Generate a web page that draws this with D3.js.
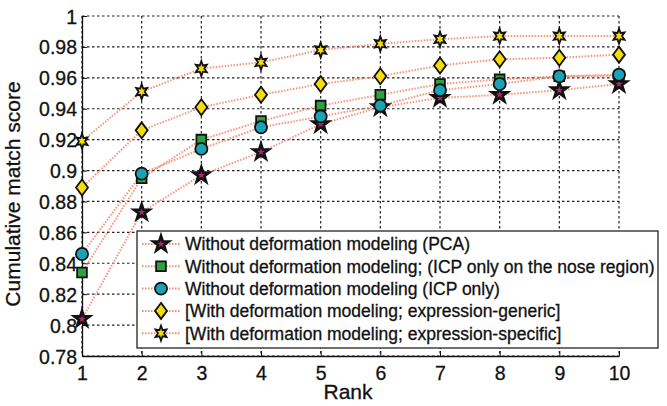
<!DOCTYPE html>
<html>
<head>
<meta charset="utf-8">
<script src="https://cdn.jsdelivr.net/npm/d3@7"></script>
<style>
  body { margin: 0; background: #fff; }
  text { font-family: "Liberation Sans", Arial, sans-serif; fill: #111; }
</style>
</head>
<body>
<div id="chart"></div>
<script>
// data
const ranks = [1, 2, 3, 4, 5, 6, 7, 8, 9, 10];
const pca      = [0.804, 0.873, 0.897, 0.912, 0.930, 0.941, 0.947, 0.949, 0.952, 0.956];
const icpNose  = [0.834, 0.895, 0.920, 0.932, 0.942, 0.949, 0.956, 0.959, 0.961, 0.961];
const icpOnly  = [0.846, 0.898, 0.914, 0.928, 0.935, 0.942, 0.952, 0.956, 0.961, 0.962];
const generic  = [0.889, 0.926, 0.941, 0.949, 0.956, 0.961, 0.968, 0.972, 0.973, 0.975];
const specific = [0.919, 0.951, 0.966, 0.970, 0.978, 0.982, 0.985, 0.987, 0.987, 0.987];
const yTicks = [0.78, 0.8, 0.82, 0.84, 0.86, 0.88, 0.9, 0.92, 0.94, 0.96, 0.98, 1];
const labels = [
    "Without deformation modeling (PCA)",
    "Without deformation modeling; (ICP only on the nose region)",
    "Without deformation modeling (ICP only)",
    "[With deformation modeling; expression-generic]",
    "[With deformation modeling; expression-specific]"
];

let series = [
    {values: pca, marker: "star", fill: "#b3246f", label: labels[0]},
    {values: icpNose, marker: "square", fill: "#2ea043", label: labels[1]},
    {values: icpOnly, marker: "circle", fill: "#1aa3b5", label: labels[2]},
    {values: generic, marker: "diamond", fill: "#f5dc0a", label: labels[3]},
    {values: specific, marker: "hexagram", fill: "#f5dc0a", label: labels[4]}
];

let margin = {top: 16, right: 48, bottom: 50, left: 82},
    width = 667 - margin.left - margin.right,
    height = 406 - margin.top - margin.bottom;

let x = d3.scaleLinear().domain([1, 10]).range([0, width]);
let y = d3.scaleLinear().domain([0.78, 1]).range([height, 0]);

let svg = d3.select("#chart").append("svg")
    .attr("width", 667)
    .attr("height", 406)
    .append("g")
    .attr("transform", "translate(" + margin.left + "," + margin.top + ")");

// dotted grid
svg.append("g").selectAll("line")
    .data(ranks)
    .enter().append("line")
    .attr("x1", (d) => x(d)).attr("x2", (d) => x(d))
    .attr("y1", 0).attr("y2", height)
    .attr("stroke", "#222").attr("stroke-width", 1.2)
    .attr("stroke-dasharray", "2.5,2.5");
svg.append("g").selectAll("line")
    .data(yTicks)
    .enter().append("line")
    .attr("x1", 0).attr("x2", width)
    .attr("y1", (d) => y(d)).attr("y2", (d) => y(d))
    .attr("stroke", "#222").attr("stroke-width", 1.2)
    .attr("stroke-dasharray", "2.5,2.5");

// axes, ticks pointing inward
let xAxis = svg.append("g")
    .attr("transform", "translate(0," + height + ")")
    .call(d3.axisBottom(x).tickValues(ranks).tickSizeInner(-5).tickSizeOuter(0).tickPadding(10).tickFormat(d3.format("d")));
let yAxis = svg.append("g")
    .call(d3.axisLeft(y).tickValues(yTicks).tickSizeInner(-5).tickSizeOuter(0).tickPadding(5).tickFormat((d) => d3.format("")(+d.toFixed(2))));
[xAxis, yAxis].forEach((a) => {
    a.select(".domain").attr("stroke", "#111").attr("stroke-width", 1.3);
    a.selectAll(".tick line").attr("stroke", "#111");
    a.selectAll("text").attr("font-size", 19.5).attr("fill", "#111")
        .attr("stroke", "#111").attr("stroke-width", 0.3)
        .attr("font-family", "'Liberation Sans', Arial, sans-serif");
});
yAxis.selectAll("text").attr("dy", "0.36em");

// axis titles
svg.append("text")
    .attr("x", 348 - margin.left).attr("y", height + 43)
    .attr("text-anchor", "middle").attr("font-size", 21)
    .attr("stroke", "#111").attr("stroke-width", 0.3)
    .text("Rank");
svg.append("text")
    .attr("transform", "translate(" + (-62) + "," + (194 - margin.top) + ") rotate(-90)")
    .attr("text-anchor", "middle").attr("font-size", 21)
    .attr("stroke", "#111").attr("stroke-width", 0.3)
    .text("Cumulative match score");

// marker shapes
function markerPath(type) {
    if (type === "star") return d3.symbol(d3.symbolStar, 75)();
    if (type === "square") return d3.symbol(d3.symbolSquare, 95)();
    if (type === "circle") return d3.symbol(d3.symbolCircle, 115)();
    if (type === "diamond") {
        return "M0,-8L6,0L0,8L-6,0Z";
    }
    // six-pointed star, elongated vertically like matlab's hexagram
    let pts = [];
    for (let i = 0; i < 12; i++) {
        let a = -Math.PI / 2 + i * Math.PI / 6;
        let r = i % 2 === 0 ? 7.5 : 3.6;
        pts.push([r * Math.cos(a) * 0.85, r * Math.sin(a)]);
    }
    return "M" + pts.join("L") + "Z";
}

let line = d3.line().x((d, i) => x(ranks[i])).y((d) => y(d));

// lines first, then markers on top
series.forEach((s) => {
    svg.append("path")
        .datum(s.values)
        .attr("fill", "none")
        .attr("stroke", "#f58a6e")
        .attr("stroke-width", 2)
        .attr("stroke-dasharray", "1.5,1.5")
        .attr("opacity", 0.9)
        .attr("d", line);
});
series.forEach((s) => {
    svg.append("g").selectAll("path")
        .data(s.values)
        .enter().append("path")
        .attr("transform", (d, i) => "translate(" + x(ranks[i]) + "," + y(d) + ")")
        .attr("d", markerPath(s.marker))
        .attr("fill", s.fill)
        .attr("stroke", "#111")
        .attr("stroke-width", s.marker === "star" ? 2.6 : 1.8);
});

// legend
let lg = svg.append("g").attr("transform", "translate(" + (137 - margin.left) + "," + (231 - margin.top) + ")");
lg.append("rect")
    .attr("width", 521).attr("height", 117)
    .attr("fill", "#fff").attr("stroke", "#111").attr("stroke-width", 1.2);
series.forEach((s, i) => {
    let row = lg.append("g").attr("transform", "translate(0," + (13 + i * 22.3) + ")");
    row.append("line")
        .attr("x1", 5).attr("x2", 43)
        .attr("stroke", "#f58a6e").attr("stroke-width", 2)
        .attr("stroke-dasharray", "1.5,1.5");
    row.append("path")
        .attr("transform", "translate(24,0)")
        .attr("d", markerPath(s.marker))
        .attr("fill", s.fill).attr("stroke", "#111")
        .attr("stroke-width", s.marker === "star" ? 2.6 : 1.8);
    row.append("text")
        .attr("x", 48).attr("dy", "0.36em")
        .attr("font-size", 17.5)
        .attr("stroke", "#111").attr("stroke-width", 0.3)
        .text(s.label);
});
</script>
</body>
</html>
